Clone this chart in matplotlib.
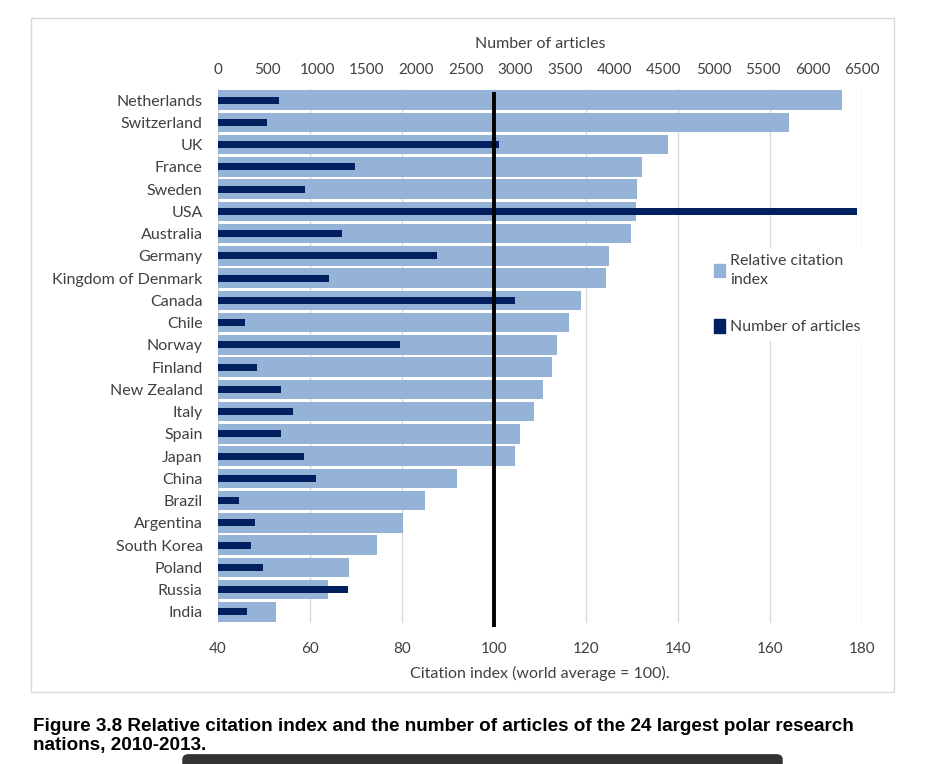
import matplotlib.pyplot as plt
import numpy as np
from matplotlib.patches import Rectangle, FancyBboxPatch
from matplotlib.transforms import blended_transform_factory

countries = ["Netherlands", "Switzerland", "UK", "France", "Sweden", "USA",
             "Australia", "Germany", "Kingdom of Denmark", "Canada", "Chile",
             "Norway", "Finland", "New Zealand", "Italy", "Spain", "Japan",
             "China", "Brazil", "Argentina", "South Korea", "Poland", "Russia",
             "India"]
citation = [175.6, 164.2, 137.8, 132.2, 131.0, 130.8, 129.8, 124.9, 124.3,
            118.9, 116.4, 113.8, 112.7, 110.7, 108.6, 105.6, 104.6, 92.0,
            85.0, 80.3, 74.5, 68.5, 64.0, 52.7]
articles = [620, 495, 2840, 1380, 875, 6450, 1250, 2210, 1125, 3000, 275,
            1840, 393, 633, 756, 633, 865, 989, 217, 373, 330, 452, 1317, 293]

light = "#95b3d7"
dark = "#002060"
txt = "#404040"

plt.rcParams['font.family'] = ['Lato', 'DejaVu Sans']

fig = plt.figure(figsize=(9.38, 7.64), dpi=100)
ax = fig.add_axes([218 / 938, 1 - 623 / 764, 644 / 938, 534 / 764])

y = np.arange(len(countries))
ax.barh(y, citation, height=0.87, color=light, zorder=2)
ax.set_xlim(40, 180)
ax.set_ylim(len(countries) - 0.5, -0.5)
ax.set_xticks(np.arange(40, 181, 20))
ax.set_yticks(y)
ax.set_yticklabels(countries)
ax.grid(axis='x', color='#d9d9d9', lw=1)
ax.set_axisbelow(True)
ax.tick_params(length=0, labelsize=11, labelcolor=txt)
ax.tick_params(axis='x', pad=14)
ax.tick_params(axis='y', pad=11, labelsize=11.5)
ax.set_xlabel("Citation index (world average = 100).", fontsize=11.5,
              color=txt, labelpad=7)
for s in ax.spines.values():
    s.set_visible(False)

ax2 = ax.twiny()
ax2.barh(y, articles, height=0.31, color=dark, zorder=2)
ax2.set_xlim(0, 6500)
ax2.set_xticks(np.arange(0, 6501, 500))
ax2.tick_params(length=0, labelsize=11, labelcolor=txt, pad=8.5)
ax2.set_xlabel("Number of articles", fontsize=11.5, color=txt, labelpad=11)
for s in ax2.spines.values():
    s.set_visible(False)

# world average reference line
tr = blended_transform_factory(ax.transData, ax.transAxes)
ax2.plot([100, 100], [0.995, -0.008], transform=tr, color='black', lw=2.8,
         zorder=5, clip_on=False, solid_capstyle='butt')

handles = [Rectangle((0, 0), 1, 1, color=light), Rectangle((0, 0), 1, 1, color=dark)]
leg = fig.legend(handles, ["Relative citation\nindex", "Number of articles"],
                 loc='upper left', bbox_to_anchor=(700 / 938, 1 - 240 / 764),
                 frameon=True, facecolor='white', edgecolor='none', framealpha=1,
                 fontsize=11.5, labelcolor=txt, handlelength=0.65, handleheight=0.9,
                 handletextpad=0.35, labelspacing=2.0, borderpad=0.4)
leg.get_texts()[0].set_linespacing(1.45)

# outer frame
fig.patches.append(Rectangle((31 / 938, 1 - 692 / 764), 863 / 938, 674 / 764,
                             transform=fig.transFigure, fill=False,
                             edgecolor='#d9d9d9', lw=1))

fig.text(33 / 938, 1 - 736 / 764,
         "Figure 3.8 Relative citation index and the number of articles of the 24 largest polar research\nnations, 2010-2013.",
         family='Liberation Sans', fontweight='bold', fontsize=13.6, color='black',
         va='center', ha='left', linespacing=1.1)

fig.patches.append(FancyBboxPatch((183 / 938, -0.02), 599 / 938, 0.032,
                                  boxstyle="round,pad=0,rounding_size=0.006",
                                  transform=fig.transFigure, color='#333333'))

fig.savefig("out.png", dpi=100, facecolor='white')
